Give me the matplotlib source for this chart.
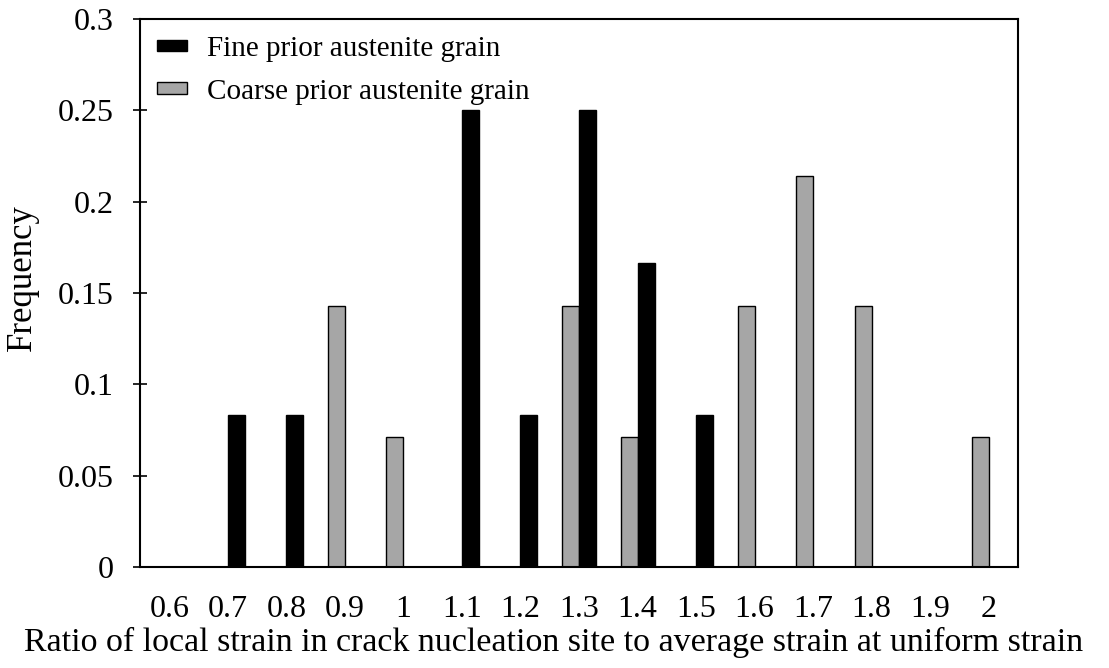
import matplotlib.pyplot as plt
import numpy as np

# histogram bins (ratio of local strain / average strain)
categories = ['0.6', '0.7', '0.8', '0.9', '1', '1.1', '1.2', '1.3', '1.4',
              '1.5', '1.6', '1.7', '1.8', '1.9', '2']
# frequencies: fine grain = counts / 12, coarse grain = counts / 14
fine = [0, 1/12, 1/12, 0, 0, 3/12, 1/12, 3/12, 2/12, 1/12, 0, 0, 0, 0, 0]
coarse = [0, 0, 0, 2/14, 1/14, 0, 0, 2/14, 1/14, 0, 2/14, 3/14, 2/14, 0, 1/14]
yticks = [0, 0.05, 0.1, 0.15, 0.2, 0.25, 0.3]
ytick_labels = ['0', '0.05', '0.1', '0.15', '0.2', '0.25', '0.3']

plt.rcParams['font.family'] = ['Liberation Serif', 'DejaVu Serif']

W, H = 1109, 668
fig = plt.figure(figsize=(W / 100, H / 100), dpi=100)
ax = fig.add_axes([140 / W, 1 - 567 / H, 878 / W, 548 / H])

x = np.arange(len(categories))
w = 0.29
ax.bar(x - w / 2, coarse, w, color='#a6a6a6', edgecolor='black', linewidth=1,
       label='Coarse prior austenite grain', zorder=2)
ax.bar(x + w / 2, fine, w, color='black', edgecolor='black', linewidth=1,
       label='Fine prior austenite grain', zorder=2)

ax.set_xlim(-0.5, len(categories) - 0.5)
ax.set_ylim(0, 0.3)
ax.set_xticks(x)
ax.set_xticklabels(categories, fontsize=23)
ax.set_yticks(yticks)
ax.set_yticklabels(ytick_labels, fontsize=23)
ax.tick_params(axis='x', length=0, pad=20)
ax.tick_params(axis='y', direction='inout', length=10, width=1.2, pad=14)
for s in ax.spines.values():
    s.set_linewidth(1.5)

# axis titles placed like the original (centred a bit off the plot area)
fig.text(22 / W, 1 - 278 / H, 'Frequency', fontsize=25, rotation=90,
         ha='center', va='center')
fig.text(554 / W, 1 - 642 / H,
         'Ratio of local strain in crack nucleation site to average strain at uniform strain',
         fontsize=24.5, ha='center', va='center')

# legend: fine first, coarse second
h, l = ax.get_legend_handles_labels()
ax.legend(h[::-1], l[::-1], loc='upper left', bbox_to_anchor=(0.0, 1.0),
          frameon=False, fontsize=21, handlelength=1.03, handleheight=0.22,
          handletextpad=0.68, labelspacing=0.57, borderaxespad=0.18)

plt.savefig('out.png', dpi=100)
